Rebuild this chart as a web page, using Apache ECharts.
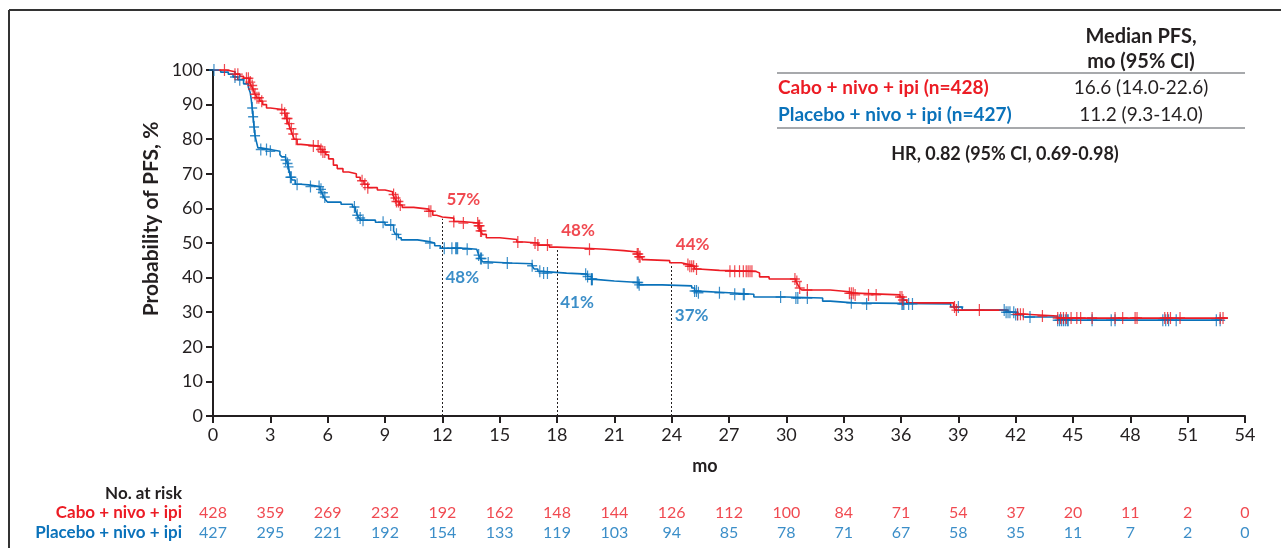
<!DOCTYPE html>
<html><head><meta charset="utf-8">
<script src="https://cdn.jsdelivr.net/npm/echarts@6/dist/echarts.min.js"></script>
<style>html,body{margin:0;padding:0;background:#fff}#c{width:1281px;height:548px}</style>
</head><body><div id="c"></div>
<script>
// ---- data ----
const xTicks = [0,3,6,9,12,15,18,21,24,27,30,33,36,39,42,45,48,51,54];
const redSteps = [[0,100],[0.7,99.5],[1.15,98.8],[1.4,98.2],[1.6,97.6],[1.9,96.5],[2.0,95.5],[2.1,94.5],[2.2,93],[2.3,92],[2.45,91],[2.6,90],[2.8,89],[3.0,88.5],[3.75,87.5],[3.85,86],[3.95,84.5],[4.05,83],[4.15,81.5],[4.25,80],[4.4,78.5],[4.6,78],[5.6,77],[5.75,76.3],[5.9,75.5],[6.05,74.3],[6.3,72.5],[6.5,71.5],[6.8,70.5],[7.1,70],[7.5,69],[7.7,68],[7.9,67],[8.1,66],[8.6,65.3],[9.0,64.8],[9.4,64],[9.5,63],[9.6,62],[9.75,61],[9.9,60.3],[10.5,59.8],[11.3,59.2],[11.5,58],[11.7,57.5],[12.0,57.2],[12.6,56.2],[13.0,55.8],[13.9,55],[14.0,53.5],[14.1,52.5],[14.3,51.5],[15.0,51],[15.9,50.3],[16.3,50],[17.0,49.4],[17.6,48.8],[18.0,48.5],[19.5,48.2],[20.5,47.8],[21.5,47.4],[22.2,46.8],[22.3,46],[22.45,45.2],[22.6,44.9],[23.9,44.3],[24.5,43.8],[24.9,43.3],[25.2,42.5],[25.4,42.1],[26.5,41.8],[28.4,41.3],[28.6,40.2],[29.1,39.6],[30.5,38.9],[30.6,38],[30.7,37],[30.8,36.4],[32.3,35.9],[33.3,35.5],[33.6,35],[35.95,34.4],[36.1,33.5],[36.3,32.7],[38.75,31.5],[38.85,30.6],[41.6,30.0],[42.1,29.4],[42.5,28.9],[44.2,28.3],[53.1,28.3]];
const blueSteps = [[0,100],[0.4,99.4],[0.8,98.8],[1.05,98],[1.3,97.2],[1.6,96],[1.85,95],[1.95,93.4],[2.0,91.5],[2.05,89],[2.1,86.5],[2.15,83.5],[2.2,81],[2.25,79.8],[2.35,77.5],[2.5,77],[3.0,76.5],[3.5,75.5],[3.6,74.9],[3.8,74],[3.9,73],[3.95,72],[4.0,70.5],[4.05,69],[4.15,68.2],[4.3,67],[4.6,66.8],[5.0,66.3],[5.6,65.5],[5.7,64.5],[5.8,63.3],[5.9,62.4],[6.0,61.8],[6.7,61.2],[7.3,60.4],[7.45,59.5],[7.55,58],[7.65,57.2],[7.75,56.6],[8.5,56],[9.0,55.2],[9.45,53.5],[9.55,52.5],[9.7,51.5],[9.85,50.9],[10.7,50.4],[11.3,50],[11.6,49.2],[11.9,48.5],[13.2,48.2],[13.8,47.8],[13.9,46.5],[14.0,45.5],[14.1,44.6],[14.3,44.2],[15.5,44],[16.7,43.4],[16.8,42.5],[17.0,41.8],[17.2,41.3],[18.5,41],[19.6,40.3],[19.8,39.5],[20.0,39],[21.0,38.6],[22.3,37.9],[23.5,37.6],[25.05,37],[25.2,36.1],[25.35,35.6],[27.0,35.2],[28.3,34.4],[30.0,34.1],[31.9,33.2],[32.3,32.7],[33.5,32.4],[38.6,31.5],[39.2,30.6],[41.5,30.0],[42.0,29.3],[42.4,28.6],[44.2,27.7],[52.8,27.7]];
const redCensor = [0.6,1.15,1.3,1.75,1.85,1.95,2.05,2.1,2.2,2.3,2.4,2.55,3.6,3.75,3.85,3.9,4.0,4.1,4.2,4.35,5.25,5.5,5.65,5.75,5.85,7.8,7.95,8.1,9.45,9.55,9.6,9.7,9.8,11.3,11.4,12.6,13.1,13.85,13.9,13.95,14.0,14.05,15.95,16.85,17.0,17.5,19.7,22.2,22.25,22.3,22.35,24.85,24.95,25.05,25.15,25.3,27.05,27.3,27.55,27.75,27.9,28.0,28.1,28.2,30.45,30.55,30.7,31.1,33.3,33.4,33.5,33.6,34.3,34.7,35.95,36.05,36.1,38.8,38.9,40.1,42.1,42.25,42.4,43.4,44.2,44.35,44.5,44.65,44.9,45.2,45.4,46.0,47.2,47.6,48.25,48.35,49.8,49.95,50.1,50.6,52.7,52.85];
const blueCensor = [0.05,1.15,1.4,2.05,2.1,2.15,2.2,2.5,2.8,3.0,3.8,3.9,3.95,4.05,4.1,4.4,5.1,5.55,5.65,5.75,5.85,7.4,7.55,7.7,7.85,8.9,9.3,9.6,11.35,12.1,12.5,12.7,12.75,12.8,13.3,13.9,14.0,14.05,14.4,15.4,16.7,17.1,17.3,17.5,19.5,19.6,19.8,19.82,19.85,22.2,22.25,22.3,25.2,25.3,25.4,26.5,27.3,27.75,27.8,29.7,30.5,30.6,31.1,33.4,34.2,36.05,36.1,36.15,36.4,36.6,39.0,41.4,41.5,41.6,41.7,41.9,42.0,42.1,42.75,44.2,44.3,44.4,44.5,44.6,44.7,44.75,46.0,47.0,47.2,49.7,49.85,50.0,50.4,52.5,52.7];
const landmarkTimes = [12,18,24];
const redLandmark = [57,48,44];
const blueLandmark = [48,41,37];
const atRiskRed = [428,359,269,232,192,162,148,144,126,112,100,84,71,54,37,20,11,2,0];
const atRiskBlue = [427,295,221,192,154,133,119,103,94,85,78,71,67,58,35,11,7,2,0];
const armNames = ['Cabo + nivo + ipi','Placebo + nivo + ipi'];
const medianText = ['16.6 (14.0-22.6)','11.2 (9.3-14.0)'];
const nText = ['(n=428)','(n=427)'];
const hrText = 'HR, 0.82 (95% CI, 0.69-0.98)';

// ---- style ----
const RED = '#ec1c24', BLUE = '#0a72ba', INK = '#231f20';
const FONT = 'Lato';
const plus = 'path://M4.4,0h1.2v10h-1.2z M0,4.4h10v1.2h-10z';

function survAt(steps, t){ let v = steps[0][1]; for (const s of steps){ if (s[0] <= t) v = s[1]; else break; } return v; }

const chart = echarts.init(document.getElementById('c'), null, {renderer:'canvas'});
const option = {
  animation:false,
  textStyle:{fontFamily:FONT},
  grid:[
    {left:213, right:36, top:70, bottom:132},
    {left:213, right:36, top:503, height:40}
  ],
  xAxis:[
    {gridIndex:0, type:'value', min:0, max:54, interval:3,
     axisLine:{lineStyle:{color:INK,width:2}}, axisTick:{length:7,lineStyle:{color:INK,width:2}},
     axisLabel:{color:INK,fontSize:18,margin:10,fontFamily:FONT}, splitLine:{show:false}},
    {gridIndex:1, type:'value', min:0, max:54, interval:3, show:false}
  ],
  yAxis:[
    {gridIndex:0, type:'value', min:0, max:100, interval:10,
     axisLine:{show:true,lineStyle:{color:INK,width:2}}, axisTick:{show:true,length:7,lineStyle:{color:INK,width:2}},
     axisLabel:{color:INK,fontSize:18,margin:10,fontFamily:FONT}, splitLine:{show:false}},
    {gridIndex:1, type:'category', data:[armNames[1],armNames[0]],
     axisLine:{show:false}, axisTick:{show:false},
     axisLabel:{show:true, interval:0, margin:31, fontSize:17, fontWeight:'bold', fontFamily:FONT,
       formatter:function(v){ return v===armNames[0] ? '{r|'+v+'}' : '{b|'+v+'}'; },
       rich:{r:{color:RED,fontWeight:'bold',fontSize:17,fontFamily:FONT},b:{color:BLUE,fontWeight:'bold',fontSize:17,fontFamily:FONT}}}}
  ],
  series:[
    {type:'line', step:'end', data:blueSteps, showSymbol:false, lineStyle:{color:BLUE,width:1.6}, z:3},
    {type:'line', step:'end', data:redSteps, showSymbol:false, lineStyle:{color:RED,width:1.6}, z:4,
     markLine:{silent:true, symbol:'none', label:{show:false}, lineStyle:{type:[2,2],color:INK,width:1},
       data: landmarkTimes.map((t,i)=>[{coord:[t,0]},{coord:[t,redLandmark[i]]}])}},
    {type:'scatter', data:blueCensor.map(t=>[t,survAt(blueSteps,t)]), symbol:plus, symbolSize:[10,12], itemStyle:{color:BLUE}, z:5},
    {type:'scatter', data:redCensor.map(t=>[t,survAt(redSteps,t)]), symbol:plus, symbolSize:[10,12], itemStyle:{color:RED}, z:6},
    {type:'scatter', data:landmarkTimes.map((t,i)=>[t,redLandmark[i]]), symbolSize:0, z:7,
     label:{show:true, position:'inside', offset:[21,-19], formatter:p=>p.value[1]+'%', color:RED, fontWeight:'bold', fontSize:17, fontFamily:FONT}},
    {type:'scatter', data:landmarkTimes.map((t,i)=>[t,blueLandmark[i]]), symbolSize:0, z:7,
     label:{show:true, position:'inside', offset:[20,28], formatter:p=>p.value[1]+'%', color:BLUE, fontWeight:'bold', fontSize:17, fontFamily:FONT}},
    {type:'scatter', xAxisIndex:1, yAxisIndex:1, symbolSize:0, data:xTicks.map((t,i)=>[t,armNames[0],atRiskRed[i]]),
     label:{show:true, position:'inside', formatter:p=>p.value[2], color:RED, fontSize:16, fontFamily:FONT}},
    {type:'scatter', xAxisIndex:1, yAxisIndex:1, symbolSize:0, data:xTicks.map((t,i)=>[t,armNames[1],atRiskBlue[i]]),
     label:{show:true, position:'inside', formatter:p=>p.value[2], color:BLUE, fontSize:16, fontFamily:FONT}}
  ],
  graphic:[
    {type:'line', shape:{x1:9,y1:10,x2:1281,y2:10}, style:{stroke:'#333',lineWidth:2}},
    {type:'line', shape:{x1:9,y1:10,x2:9,y2:548}, style:{stroke:'#333',lineWidth:2}},
    {type:'text', x:151, y:219, rotation:Math.PI/2, style:{text:'Probability of PFS, %', font:'bold 21px '+FONT, fill:INK, textAlign:'center', textVerticalAlign:'middle'}},
    {type:'text', x:705, y:466, style:{text:'mo', font:'bold 18px '+FONT, fill:INK, textAlign:'center', textVerticalAlign:'middle'}},
    {type:'text', x:182, y:494, style:{text:'No. at risk', font:'bold 17px '+FONT, fill:INK, textAlign:'right', textVerticalAlign:'middle'}},
    {type:'text', x:1141, y:37, style:{text:'Median PFS,', font:'bold 20px '+FONT, fill:INK, textAlign:'center', textVerticalAlign:'middle'}},
    {type:'text', x:1141, y:62, style:{text:'mo (95% CI)', font:'bold 20px '+FONT, fill:INK, textAlign:'center', textVerticalAlign:'middle'}},
    {type:'line', shape:{x1:777,y1:73,x2:1245,y2:73}, style:{stroke:'#a7a9ac',lineWidth:2}},
    {type:'text', x:778, y:88, style:{text:armNames[0]+' '+nText[0], font:'bold 19px '+FONT, fill:RED, textAlign:'left', textVerticalAlign:'middle'}},
    {type:'text', x:1141, y:88, style:{text:medianText[0], font:'19px '+FONT, fill:INK, textAlign:'center', textVerticalAlign:'middle'}},
    {type:'text', x:778, y:115, style:{text:armNames[1]+' '+nText[1], font:'bold 19px '+FONT, fill:BLUE, textAlign:'left', textVerticalAlign:'middle'}},
    {type:'text', x:1141, y:115, style:{text:medianText[1], font:'19px '+FONT, fill:INK, textAlign:'center', textVerticalAlign:'middle'}},
    {type:'line', shape:{x1:777,y1:128,x2:1245,y2:128}, style:{stroke:'#a7a9ac',lineWidth:2}},
    {type:'text', x:1005, y:154, style:{text:hrText, font:'bold 18px '+FONT, fill:INK, textAlign:'center', textVerticalAlign:'middle'}}
  ]
};
chart.setOption(option);
</script>
</body></html>
